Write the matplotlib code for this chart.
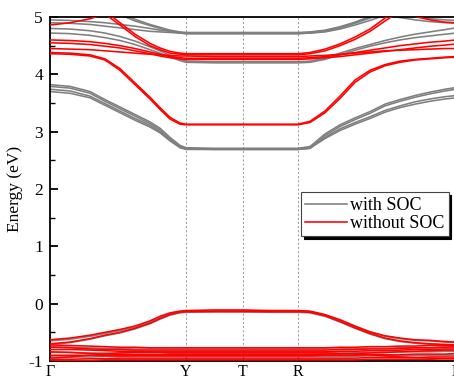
import matplotlib
matplotlib.use("Agg")
import matplotlib.pyplot as plt
from matplotlib.ticker import MultipleLocator

plt.rcParams['font.family'] = ['Liberation Serif', 'DejaVu Serif']
plt.rcParams['mathtext.fontset'] = 'stix'

# k-path positions (distance units)
k_ticks = [0, 136, 193, 248, 406]
k_labels = ['Γ', 'Y', 'T', 'R', 'Γ']
K = [0, 20, 40, 55, 70, 85, 100, 110, 120, 130, 136, 165, 193, 220, 248,
     260, 275, 290, 305, 320, 335, 350, 365, 380, 395, 406]

# ---- with SOC (gray) bands ----
gray_bands = [
    # lowest conduction bundle
    [3.82, 3.79, 3.70, 3.56, 3.43, 3.30, 3.17, 3.06, 2.90, 2.76, 2.72, 2.71, 2.71, 2.71, 2.71,
     2.74, 2.96, 3.12, 3.24, 3.35, 3.48, 3.56, 3.63, 3.69, 3.74, 3.77],
    [3.79, 3.76, 3.67, 3.53, 3.40, 3.27, 3.14, 3.03, 2.87, 2.74, 2.70, 2.69, 2.69, 2.69, 2.69,
     2.71, 2.93, 3.09, 3.21, 3.32, 3.45, 3.53, 3.60, 3.66, 3.71, 3.74],
    [3.74, 3.71, 3.62, 3.49, 3.36, 3.23, 3.11, 3.00, 2.85, 2.73, 2.70, 2.70, 2.70, 2.70, 2.70,
     2.72, 2.90, 3.05, 3.16, 3.26, 3.37, 3.45, 3.52, 3.57, 3.61, 3.63],
    [3.70, 3.67, 3.59, 3.46, 3.33, 3.20, 3.08, 2.98, 2.84, 2.72, 2.69, 2.69, 2.69, 2.69, 2.69,
     2.71, 2.88, 3.02, 3.13, 3.23, 3.34, 3.42, 3.48, 3.53, 3.57, 3.59],
    # 4.2 bands
    [4.80, 4.79, 4.76, 4.72, 4.66, 4.58, 4.48, 4.41, 4.33, 4.26, 4.23, 4.22, 4.22, 4.22, 4.22,
     4.23, 4.28, 4.37, 4.45, 4.52, 4.59, 4.65, 4.70, 4.74, 4.78, 4.81],
    [4.72, 4.71, 4.68, 4.64, 4.59, 4.52, 4.43, 4.37, 4.30, 4.24, 4.21, 4.20, 4.20, 4.20, 4.20,
     4.21, 4.26, 4.34, 4.42, 4.49, 4.55, 4.60, 4.64, 4.67, 4.70, 4.72],
    # 4.72 bands
    [5.60, 5.50, 5.35, 5.22, 5.07, 4.96, 4.87, 4.82, 4.77, 4.74, 4.73, 4.73, 4.73, 4.73, 4.73,
     4.74, 4.77, 4.83, 4.91, 5.01, 5.12, 5.20, 5.30, 5.40, 5.45, 5.50],
    [5.55, 5.45, 5.30, 5.18, 5.04, 4.93, 4.85, 4.80, 4.75, 4.72, 4.71, 4.71, 4.71, 4.71, 4.71,
     4.72, 4.75, 4.81, 4.89, 4.98, 5.09, 5.18, 5.28, 5.38, 5.43, 5.48],
    [4.95, 4.94, 4.92, 4.90, 4.87, 4.84, 4.80, 4.77, 4.75, 4.73, 4.72, 4.72, 4.72, 4.72, 4.72,
     4.73, 4.76, 4.82, 4.90, 5.00, 5.10, 5.05, 5.00, 4.97, 4.95, 4.94],
    [4.90, 4.89, 4.87, 4.84, 4.81, 4.78, 4.75, 4.74, 4.73, 4.72, 4.71, 4.71, 4.71, 4.71, 4.71,
     4.72, 4.74, 4.79, 4.86, 4.94, 5.03, 4.99, 4.95, 4.92, 4.90, 4.89],
    # valence
    [-0.65, -0.62, -0.57, -0.52, -0.47, -0.41, -0.32, -0.24, -0.18, -0.14, -0.13, -0.12, -0.12, -0.13, -0.13,
     -0.14, -0.20, -0.29, -0.40, -0.50, -0.57, -0.61, -0.64, -0.65, -0.67, -0.68],
    [-0.71, -0.68, -0.62, -0.56, -0.51, -0.44, -0.35, -0.27, -0.20, -0.16, -0.15, -0.14, -0.14, -0.15, -0.15,
     -0.16, -0.22, -0.32, -0.43, -0.53, -0.61, -0.66, -0.69, -0.71, -0.72, -0.73],
    [-0.75, -0.76, -0.77, -0.78, -0.78, -0.79, -0.79, -0.79, -0.79, -0.79, -0.79, -0.79, -0.79, -0.79, -0.79,
     -0.79, -0.79, -0.79, -0.78, -0.78, -0.78, -0.77, -0.77, -0.77, -0.76, -0.76],
    [-0.85, -0.85, -0.86, -0.86, -0.86, -0.86, -0.86, -0.86, -0.86, -0.86, -0.86, -0.86, -0.86, -0.86, -0.86,
     -0.86, -0.86, -0.86, -0.85, -0.85, -0.85, -0.84, -0.84, -0.84, -0.83, -0.83],
    [-0.93, -0.93, -0.93, -0.92, -0.92, -0.92, -0.92, -0.92, -0.92, -0.92, -0.92, -0.92, -0.92, -0.92, -0.92,
     -0.92, -0.92, -0.92, -0.92, -0.91, -0.91, -0.91, -0.90, -0.90, -0.90, -0.90],
]

# ---- without SOC (red) bands ----
red_bands = [
    # 3.13 band
    [4.38, 4.37, 4.34, 4.27, 4.10, 3.85, 3.60, 3.42, 3.25, 3.15, 3.13, 3.13, 3.13, 3.13, 3.13,
     3.18, 3.36, 3.62, 3.90, 4.07, 4.17, 4.23, 4.26, 4.28, 4.30, 4.31],
    [4.36, 4.35, 4.32, 4.25, 4.07, 3.82, 3.57, 3.39, 3.22, 3.13, 3.12, 3.12, 3.12, 3.12, 3.12,
     3.16, 3.33, 3.58, 3.86, 4.04, 4.15, 4.21, 4.25, 4.27, 4.29, 4.30],
    # steep band from top
    [5.60, 5.45, 5.25, 5.10, 4.90, 4.70, 4.54, 4.46, 4.40, 4.37, 4.36, 4.36, 4.36, 4.36, 4.36,
     4.38, 4.44, 4.53, 4.65, 4.79, 4.98, 5.15, 5.30, 5.40, 5.45, 5.50],
    [5.55, 5.40, 5.20, 5.05, 4.86, 4.66, 4.50, 4.43, 4.37, 4.35, 4.34, 4.34, 4.34, 4.34, 4.34,
     4.36, 4.41, 4.50, 4.61, 4.75, 4.93, 5.10, 5.25, 5.35, 5.40, 5.45],
    # 4.27 bands
    [4.60, 4.59, 4.57, 4.54, 4.50, 4.45, 4.39, 4.35, 4.31, 4.29, 4.28, 4.28, 4.28, 4.28, 4.28,
     4.29, 4.31, 4.34, 4.38, 4.42, 4.46, 4.50, 4.53, 4.56, 4.58, 4.60],
    [4.55, 4.54, 4.52, 4.49, 4.46, 4.41, 4.36, 4.32, 4.29, 4.27, 4.26, 4.26, 4.26, 4.26, 4.26,
     4.27, 4.29, 4.31, 4.34, 4.37, 4.40, 4.43, 4.46, 4.49, 4.51, 4.53],
    [4.45, 4.44, 4.43, 4.41, 4.39, 4.37, 4.35, 4.34, 4.33, 4.32, 4.32, 4.31, 4.31, 4.31, 4.31,
     4.32, 4.33, 4.35, 4.37, 4.39, 4.41, 4.42, 4.43, 4.44, 4.45, 4.45],
    # top band
    [4.86, 4.90, 4.97, 5.05, 5.15, 5.30, 5.40, 5.50, 5.60, 5.60, 5.60, 5.60, 5.60, 5.60, 5.60,
     5.60, 5.60, 5.60, 5.50, 5.40, 5.25, 5.10, 5.01, 4.95, 4.91, 4.90],
    # valence
    [-0.63, -0.60, -0.55, -0.50, -0.45, -0.39, -0.30, -0.22, -0.16, -0.13, -0.12, -0.11, -0.11, -0.12, -0.12,
     -0.13, -0.19, -0.28, -0.39, -0.49, -0.56, -0.60, -0.63, -0.64, -0.66, -0.67],
    [-0.70, -0.67, -0.61, -0.55, -0.50, -0.43, -0.34, -0.26, -0.19, -0.15, -0.14, -0.14, -0.14, -0.14, -0.14,
     -0.15, -0.21, -0.31, -0.42, -0.52, -0.60, -0.65, -0.68, -0.70, -0.71, -0.72],
    [-0.72, -0.73, -0.74, -0.75, -0.76, -0.76, -0.77, -0.77, -0.77, -0.77, -0.77, -0.77, -0.77, -0.77, -0.77,
     -0.77, -0.77, -0.76, -0.76, -0.75, -0.75, -0.74, -0.74, -0.73, -0.73, -0.72],
    [-0.76, -0.77, -0.79, -0.80, -0.80, -0.81, -0.81, -0.81, -0.81, -0.81, -0.81, -0.81, -0.81, -0.81, -0.81,
     -0.81, -0.81, -0.80, -0.80, -0.79, -0.79, -0.78, -0.77, -0.77, -0.76, -0.75],
    [-0.80, -0.80, -0.81, -0.82, -0.83, -0.83, -0.84, -0.84, -0.84, -0.84, -0.84, -0.84, -0.84, -0.84, -0.84,
     -0.84, -0.84, -0.83, -0.83, -0.82, -0.82, -0.81, -0.80, -0.80, -0.79, -0.79],
    [-0.84, -0.85, -0.87, -0.88, -0.89, -0.89, -0.89, -0.89, -0.89, -0.89, -0.89, -0.89, -0.89, -0.89, -0.89,
     -0.89, -0.88, -0.88, -0.87, -0.86, -0.85, -0.84, -0.83, -0.82, -0.81, -0.81],
    [-0.90, -0.90, -0.90, -0.91, -0.91, -0.91, -0.91, -0.91, -0.91, -0.91, -0.91, -0.91, -0.91, -0.91, -0.91,
     -0.91, -0.90, -0.90, -0.90, -0.89, -0.89, -0.89, -0.88, -0.88, -0.88, -0.87],
    [-0.95, -0.93, -0.90, -0.88, -0.86, -0.85, -0.85, -0.85, -0.86, -0.86, -0.86, -0.86, -0.86, -0.86, -0.86,
     -0.86, -0.86, -0.87, -0.88, -0.89, -0.91, -0.93, -0.94, -0.95, -0.96, -0.96],
    [-0.97, -0.97, -0.96, -0.96, -0.95, -0.95, -0.95, -0.95, -0.95, -0.95, -0.95, -0.95, -0.95, -0.95, -0.95,
     -0.95, -0.95, -0.95, -0.95, -0.94, -0.94, -0.94, -0.94, -0.93, -0.93, -0.93],
    [-1.00, -0.99, -0.99, -0.98, -0.98, -0.98, -0.98, -0.98, -0.98, -0.98, -0.98, -0.98, -0.98, -0.98, -0.98,
     -0.98, -0.98, -0.98, -0.98, -0.97, -0.97, -0.97, -0.97, -0.97, -0.96, -0.96],
]

y_ticks = [-1, 0, 1, 2, 3, 4, 5]
y_labels = ['-1', '0', '1', '2', '3', '4', '5']

GRAY = '#7f7f7f'
RED = '#ff0000'
SERIF = ['Liberation Serif', 'DejaVu Serif']

fig = plt.figure(figsize=(4.54, 3.81), dpi=100)
ax = fig.add_axes([50 / 454, 1 - 361 / 381, 406 / 454, 344 / 381])

for kv in k_ticks[1:-1]:
    ax.axvline(kv, color='#888888', lw=0.6, ls=(0, (2.5, 2.5)), zorder=1)

for i, b in enumerate(gray_bands):
    ax.plot(K, b, color=GRAY, lw=1.15, solid_joinstyle='round',
            label='with SOC' if i == 0 else None, zorder=2)
for i, b in enumerate(red_bands):
    ax.plot(K, b, color=RED, lw=1.15, solid_joinstyle='round',
            label='without SOC' if i == 0 else None, zorder=3)

ax.set_xlim(k_ticks[0], k_ticks[-1])
ax.set_ylim(-1, 5)
ax.set_xticks(k_ticks)
ax.set_xticklabels(k_labels, fontsize=11.5, family=SERIF)
ax.set_yticks(y_ticks)
ax.set_yticklabels(y_labels, fontsize=12.5, family=SERIF)
ax.yaxis.set_minor_locator(MultipleLocator(0.5))
ax.tick_params(axis='y', which='major', direction='in', length=6, width=1.3, pad=5)
ax.tick_params(axis='y', which='minor', direction='in', length=3.5, width=1.0)
ax.tick_params(axis='x', which='major', direction='in', length=3, width=1.0, pad=2)
ax.set_ylabel('Energy (eV)', fontsize=12.5, labelpad=4, family=SERIF)

for s in ['left', 'top', 'bottom', 'right']:
    ax.spines[s].set_linewidth(1.3)
    ax.spines[s].set_color('black')

leg = ax.legend(loc='upper left', bbox_to_anchor=(0.618, 0.49), borderaxespad=0,
                frameon=True, fancybox=False,
                shadow={'color': 'black', 'alpha': 1.0},
                handlelength=2.3, handletextpad=0.15, borderpad=0.25,
                labelspacing=0.05, prop={'family': SERIF, 'size': 13})
leg.get_frame().set_edgecolor('#444444')
leg.get_frame().set_linewidth(0.8)

fig.savefig('out.png', dpi=100)
